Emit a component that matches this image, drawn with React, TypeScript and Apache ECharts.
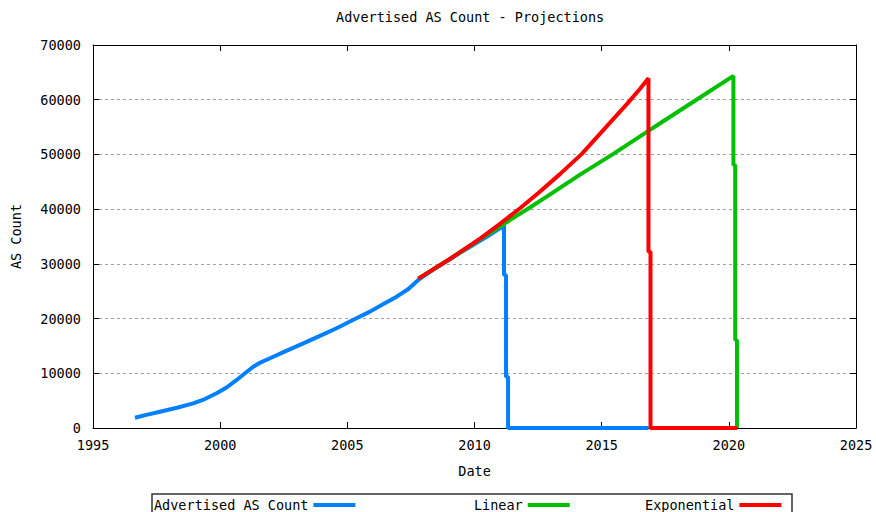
import React, { useEffect, useRef } from "react";
import * as echarts from "echarts";

const TITLE = "Advertised AS Count - Projections";
const SERIES_NAMES = ["Advertised AS Count", "Linear", "Exponential"];
const COLORS = ["#0080ff", "#00c000", "#ff0000"];

// [decimal year, AS count]
const advertised: [number, number][] = [
  [1996.65, 1880], [1997.1, 2400], [1997.63, 2980], [1998.3, 3700], [1998.94, 4510],
  [1999.4, 5300], [1999.86, 6340], [2000.25, 7400], [2000.65, 8780], [2001.0, 10100],
  [2001.3, 11200], [2001.6, 12000], [2001.96, 12740], [2002.6, 14100], [2003.27, 15480],
  [2003.9, 16800], [2004.58, 18230], [2005.2, 19700], [2005.89, 21270], [2006.4, 22600],
  [2006.94, 24000], [2007.4, 25400], [2007.79, 27060], [2008.5, 29300], [2009.5, 32200],
  [2010.5, 35000], [2011.16, 37000], [2011.16, 27970], [2011.24, 27970], [2011.24, 9380],
  [2011.32, 9380], [2011.32, 0], [2016.84, 0],
];

const linear: [number, number][] = [
  [2007.79, 27300], [2009.0, 30800], [2010.22, 34500], [2011.53, 38400],
  [2012.18, 40300], [2012.84, 42300], [2014.15, 46300], [2014.94, 48600],
  [2015.46, 50100], [2016.84, 54300], [2017.3, 55700], [2018.5, 59300],
  [2020.18, 64350], [2020.18, 48080], [2020.25, 48080],
  [2020.25, 16090], [2020.32, 16090], [2020.32, 0],
];

const exponential: [number, number][] = [
  [2007.79, 27300], [2009.0, 30800], [2010.22, 34600], [2011.0, 37300],
  [2011.79, 40160], [2012.5, 42900], [2013.36, 46400], [2014.22, 50100],
  [2014.94, 53800], [2015.33, 55800], [2015.99, 59200], [2016.51, 62000],
  [2016.84, 63930], [2016.84, 32230], [2016.92, 32230], [2016.92, 0], [2020.32, 0],
];

const X_MIN = 1995;
const X_MAX = 2025;
const X_STEP = 5;
const Y_MIN = 0;
const Y_MAX = 70000;
const Y_STEP = 10000;

const FONT = "DejaVu Sans Mono";
const FS = 13.5;

export default function App() {
  const ref = useRef<HTMLDivElement>(null);
  useEffect(() => {
    if (!ref.current) return;
    const chart = echarts.init(ref.current, undefined, { renderer: "svg" });
    const txt = { fontFamily: FONT, fontSize: FS, color: "#000" };
    const fmt = (v: number) => String(v);
    const legendBase = {
      top: 498,
      padding: 0,
      align: "right" as const,
      icon: "rect",
      itemWidth: 42,
      itemHeight: 4,
      textStyle: txt,
      selectedMode: false,
    };
    chart.setOption({
      animation: false,
      backgroundColor: "#fff",
      title: {
        text: TITLE,
        left: 336,
        top: 10,
        padding: 0,
        textStyle: { ...txt, fontWeight: "normal" },
      },
      legend: [
        { ...legendBase, left: 154, data: [SERIES_NAMES[0]] },
        { ...legendBase, left: 474, data: [SERIES_NAMES[1]] },
        { ...legendBase, left: 645, data: [SERIES_NAMES[2]] },
      ],
      graphic: [
        {
          type: "rect",
          shape: { x: 152, y: 494, width: 640, height: 40 },
          style: { fill: "none", stroke: "#333", lineWidth: 1.5 },
          silent: true,
        },
      ],
      grid: { left: 93, right: 20, top: 45, bottom: 84, containLabel: false },
      xAxis: [
        {
          type: "value",
          min: X_MIN,
          max: X_MAX,
          interval: X_STEP,
          name: "Date",
          nameLocation: "middle",
          nameGap: 36,
          nameTextStyle: txt,
          axisLine: { show: true, onZero: false, lineStyle: { color: "#000", width: 1 } },
          axisTick: { show: true, inside: true, length: 6, lineStyle: { color: "#000" } },
          axisLabel: { ...txt, margin: 10, formatter: fmt },
          splitLine: { show: false },
        },
        {
          type: "value",
          position: "top",
          min: X_MIN,
          max: X_MAX,
          interval: X_STEP,
          axisLine: { show: true, onZero: false, lineStyle: { color: "#000", width: 1 } },
          axisTick: { show: true, inside: true, length: 6, lineStyle: { color: "#000" } },
          axisLabel: { show: false },
          splitLine: { show: false },
        },
      ],
      yAxis: [
        {
          type: "value",
          min: Y_MIN,
          max: Y_MAX,
          interval: Y_STEP,
          name: "AS Count",
          nameLocation: "middle",
          nameGap: 70,
          nameRotate: 90,
          nameTextStyle: txt,
          axisLine: { show: true, onZero: false, lineStyle: { color: "#000", width: 1 } },
          axisTick: { show: true, inside: true, length: 6, lineStyle: { color: "#000" } },
          axisLabel: { ...txt, margin: 12, formatter: fmt },
          splitLine: { show: true, lineStyle: { color: "#a0a0a0", type: [3, 3], width: 1 } },
        },
        {
          type: "value",
          position: "right",
          min: Y_MIN,
          max: Y_MAX,
          interval: Y_STEP,
          axisLine: { show: true, onZero: false, lineStyle: { color: "#000", width: 1 } },
          axisTick: { show: true, inside: true, length: 6, lineStyle: { color: "#000" } },
          axisLabel: { show: false },
          splitLine: { show: false },
        },
      ],
      series: [
        { name: SERIES_NAMES[0], data: advertised, color: COLORS[0] },
        { name: SERIES_NAMES[1], data: linear, color: COLORS[1] },
        { name: SERIES_NAMES[2], data: exponential, color: COLORS[2] },
      ].map((s, i) => ({
        type: "line",
        name: s.name,
        data: s.data,
        xAxisIndex: 0,
        yAxisIndex: 0,
        showSymbol: false,
        symbol: "none",
        color: s.color,
        lineStyle: { color: s.color, width: 4 },
        z: 3 + i,
        silent: true,
      })),
    });
    return () => chart.dispose();
  }, []);
  return (
    <div
      ref={ref}
      style={{ position: "fixed", left: 0, top: 0, width: 876, height: 512 }}
    />
  );
}
